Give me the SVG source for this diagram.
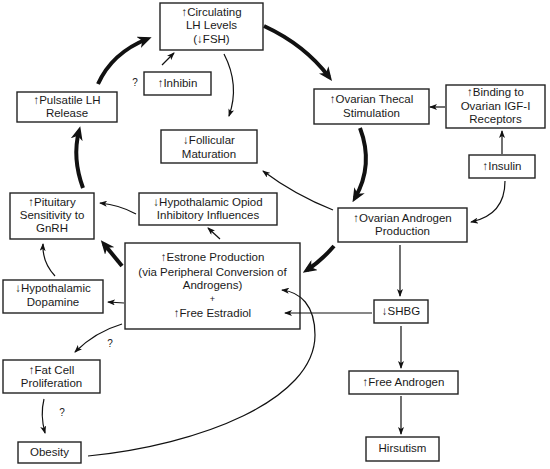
<svg xmlns="http://www.w3.org/2000/svg" width="550" height="469" viewBox="0 0 550 469">
<style>
  .box{fill:#ffffff;stroke:#222;stroke-width:1.4}
  text{font-family:"Liberation Sans",Arial,sans-serif;font-size:11.5px;fill:#1a1a1a;text-anchor:middle}
  .q{font-size:10px}
  .thick{fill:none;stroke:#111;stroke-width:4;marker-end:url(#big)}
  .thin{fill:none;stroke:#111;stroke-width:1.2;marker-end:url(#small)}
</style>
<defs>
  <marker id="big" viewBox="0 0 14 12" markerWidth="14" markerHeight="12" refX="9" refY="6" orient="auto" markerUnits="userSpaceOnUse">
    <path d="M0,0 L14,6 L0,12 L4,6 z" fill="#111"/>
  </marker>
  <marker id="small" viewBox="0 0 8 6" markerWidth="8" markerHeight="6" refX="7" refY="3" orient="auto" markerUnits="userSpaceOnUse">
    <path d="M0,0 L8,3 L0,6 L2,3 z" fill="#111"/>
  </marker>
</defs>
<rect width="550" height="469" fill="#ffffff"/>

<g id="lh"><rect class="box" x="160" y="3" width="103" height="47"/>
  <text x="211.5" y="16">↑Circulating</text><text x="211.5" y="29">LH Levels</text><text x="211.5" y="43">(↓FSH)</text></g>
<g id="inhibin"><rect class="box" x="144" y="72" width="67" height="23"/>
  <text x="177.5" y="87">↑Inhibin</text></g>
<g id="pulsatile"><rect class="box" x="17" y="92" width="100" height="30"/>
  <text x="67" y="104">↑Pulsatile LH</text><text x="67" y="117">Release</text></g>
<g id="follicular"><rect class="box" x="161" y="130" width="96" height="33"/>
  <text x="209" y="144">↓Follicular</text><text x="209" y="158">Maturation</text></g>
<g id="thecal"><rect class="box" x="314" y="89" width="115" height="35"/>
  <text x="371.5" y="103">↑Ovarian Thecal</text><text x="371.5" y="117">Stimulation</text></g>
<g id="binding"><rect class="box" x="446" y="85" width="99" height="43"/>
  <text x="495.5" y="96">↑Binding to</text><text x="495.5" y="110">Ovarian IGF-I</text><text x="495.5" y="123">Receptors</text></g>
<g id="insulin"><rect class="box" x="469" y="155" width="66" height="23"/>
  <text x="502" y="170">↑Insulin</text></g>
<g id="androgen"><rect class="box" x="338" y="208" width="129" height="34"/>
  <text x="402.5" y="222">↑Ovarian Androgen</text><text x="402.5" y="235">Production</text></g>
<g id="opiod"><rect class="box" x="139" y="193" width="138" height="32"/>
  <text x="208" y="206">↓Hypothalamic Opiod</text><text x="208" y="219">Inhibitory Influences</text></g>
<g id="pituitary"><rect class="box" x="10" y="193" width="84" height="46"/>
  <text x="52" y="206">↑Pituitary</text><text x="52" y="219">Sensitivity to</text><text x="52" y="232">GnRH</text></g>
<g id="estrone"><rect class="box" x="125" y="243" width="175" height="86"/>
  <text x="212.5" y="261">↑Estrone Production</text><text x="212.5" y="276">(via Peripheral Conversion of</text><text x="212.5" y="289">Androgens)</text><text x="212.5" y="302" style="font-size:9px">+</text><text x="212.5" y="317">↑Free Estradiol</text></g>
<g id="dopamine"><rect class="box" x="3" y="280" width="100" height="33"/>
  <text x="53" y="292">↓Hypothalamic</text><text x="53" y="306">Dopamine</text></g>
<g id="shbg"><rect class="box" x="374" y="300" width="54" height="23"/>
  <text x="401" y="315">↓SHBG</text></g>
<g id="freeandrogen"><rect class="box" x="349" y="371" width="109" height="23"/>
  <text x="403.5" y="386">↑Free Androgen</text></g>
<g id="hirsutism"><rect class="box" x="366" y="437" width="73" height="24"/>
  <text x="402.5" y="452">Hirsutism</text></g>
<g id="fatcell"><rect class="box" x="3" y="360" width="97" height="33"/>
  <text x="51.5" y="374">↑Fat Cell</text><text x="51.5" y="387">Proliferation</text></g>
<g id="obesity"><rect class="box" x="18" y="442" width="63" height="21"/>
  <text x="49.5" y="456">Obesity</text></g>

<g id="connectors">
  <path class="thick" d="M98,84 Q112,53 147,39"/>
  <path class="thick" d="M264,26 Q305,45 329,77"/>
  <path class="thick" d="M360,128 Q374,165 355,198"/>
  <path class="thick" d="M334,246 Q321,261 307,270"/>
  <path class="thick" d="M122,266 L104,244"/>
  <path class="thick" d="M83,188 Q72,158 79,131"/>
  <path class="thin" d="M162,65 L174,53"/>
  <path class="thin" d="M224,54 Q240,85 229,116"/>
  <path class="thin" d="M333,210 Q295,195 263,171"/>
  <path class="thin" d="M136,214 Q120,205 100,203"/>
  <path class="thin" d="M220,239 L208,228"/>
  <path class="thin" d="M55,276 Q42,262 43,244"/>
  <path class="thin" d="M124,303 L108,302"/>
  <path class="thin" d="M122,324 Q95,332 75,352"/>
  <path class="thin" d="M44,399 Q40,415 45,433"/>
  <path class="thin" d="M88,456 C200,445 315,400 315,335 C315,305 300,292 282,290"/>
  <path class="thin" d="M372,313 L285,313"/>
  <path class="thin" d="M400,245 L400,296"/>
  <path class="thin" d="M401,326 L401,368"/>
  <path class="thin" d="M401,396 L401,434"/>
  <path class="thin" d="M502,154 L502,131"/>
  <path class="thin" d="M505,181 Q505,215 471,222"/>
  <path class="thin" d="M445,107 L430,107"/>
  <text class="q" x="135" y="86">?</text>
  <text class="q" x="110" y="347">?</text>
  <text class="q" x="62" y="416">?</text>
</g>
</svg>
